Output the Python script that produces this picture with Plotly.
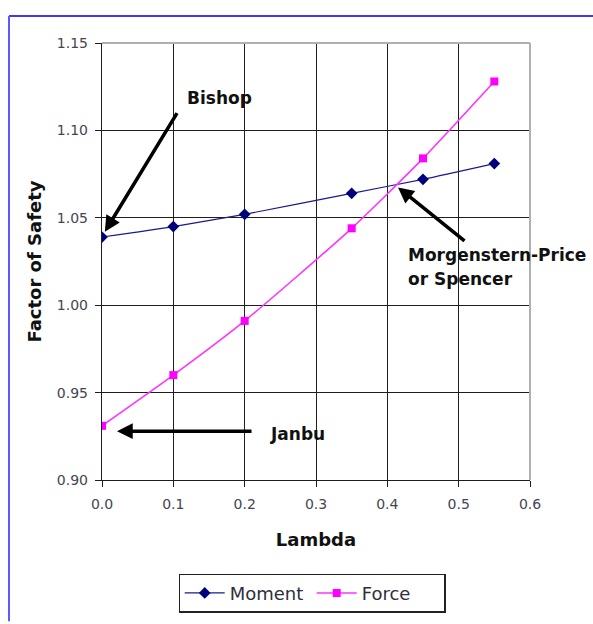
import plotly.graph_objects as go

# Factor of safety vs. lambda for moment and force equilibrium
lam_moment = [0.0, 0.1, 0.2, 0.35, 0.45, 0.55]
fs_moment = [1.039, 1.045, 1.052, 1.064, 1.072, 1.081]

lam_force = [0.0, 0.1, 0.2, 0.35, 0.45, 0.55]
fs_force = [0.931, 0.960, 0.991, 1.044, 1.084, 1.128]

x_ticks = [0.0, 0.1, 0.2, 0.3, 0.4, 0.5, 0.6]
y_ticks = [0.90, 0.95, 1.00, 1.05, 1.10, 1.15]

FONT = "DejaVu Sans, Arial, sans-serif"

# plot-area geometry in pixels (used for the outer frame in paper coords)
W, H = 593, 624
ML, MR, MT, MB = 102, 63, 43, 142
PW, PH = W - ML - MR, H - MT - MB


def px_x(p):
    return (p - ML) / PW


def px_y(p):
    return (H - MB - p) / PH


fig = go.Figure()

fig.add_trace(go.Scatter(
    x=lam_moment, y=fs_moment, name="Moment", mode="lines+markers",
    line=dict(color="#1a1a8c", width=1.2, shape="spline", smoothing=0.6),
    marker=dict(symbol="diamond", size=9, color="#00007a"),
))
fig.add_trace(go.Scatter(
    x=lam_force, y=fs_force, name="Force", mode="lines+markers",
    line=dict(color="#ff33ff", width=1.6, shape="spline", smoothing=0.6),
    marker=dict(symbol="square", size=8, color="#ff00ff"),
))

axis_common = dict(
    showgrid=True, gridcolor="#1e1e1e", gridwidth=1.4,
    showline=True, linecolor="#1e1e1e", linewidth=1.4,
    ticks="outside", ticklen=6, tickcolor="#1e1e1e", tickwidth=1.4,
    tickfont=dict(family=FONT, size=14, color="#454552"),
    zeroline=False, mirror=False,
)

fig.update_xaxes(
    range=[0, 0.6], tickvals=x_ticks, tickformat=".1f", ticklabelstandoff=5,
    title=dict(text="<b>Lambda</b>", font=dict(family=FONT, size=18, color="#111111"), standoff=22),
    **axis_common,
)
fig.update_yaxes(
    range=[0.90, 1.15], tickvals=y_ticks, tickformat=".2f", ticklabelstandoff=4,
    title=dict(text="<b>Factor of Safety</b>", font=dict(family=FONT, size=18, color="#111111"), standoff=10),
    **axis_common,
)

shapes = [
    # grey border on top and right of plot area
    dict(type="line", xref="paper", yref="paper", x0=0, x1=1, y0=1, y1=1,
         line=dict(color="#b0b0b0", width=2)),
    dict(type="line", xref="paper", yref="paper", x0=1, x1=1, y0=0, y1=1,
         line=dict(color="#b0b0b0", width=2)),
    # outer blue frame
    dict(type="line", xref="paper", yref="paper", x0=px_x(9), x1=px_x(593),
         y0=px_y(16), y1=px_y(16), line=dict(color="#3a3af0", width=2)),
    dict(type="line", xref="paper", yref="paper", x0=px_x(9), x1=px_x(9),
         y0=px_y(16), y1=px_y(624), line=dict(color="#5a5aff", width=2)),
]

arrow = dict(showarrow=True, arrowhead=2, arrowsize=0.9, arrowwidth=3.5,
             arrowcolor="#000000", xref="x", yref="y", axref="x", ayref="y", text="")
label_font = dict(family=FONT, size=17, color="#111111")

annotations = [
    dict(x=0.004, y=1.042, ax=0.1065, ay=1.1107, **arrow),
    dict(x=0.415, y=1.0674, ax=0.5103, ay=1.0361, **arrow),
    dict(x=0.021, y=0.9279, ax=0.2117, ay=0.9279, **arrow),
    dict(x=0.1165, y=1.1185, xref="x", yref="y", text="<b>Bishop</b>",
         showarrow=False, xanchor="left", yanchor="middle", font=label_font),
    dict(x=0.2325, y=0.9266, xref="x", yref="y", text="<b>Janbu</b>",
         showarrow=False, xanchor="left", yanchor="middle", font=label_font),
    dict(x=0.4258, y=1.029, xref="x", yref="y", text="<b>Morgenstern-Price</b>",
         showarrow=False, xanchor="left", yanchor="middle", font=label_font),
    dict(x=0.4258, y=1.0148, xref="x", yref="y", text="<b>or Spencer</b>",
         showarrow=False, xanchor="left", yanchor="middle", font=label_font),
]

fig.update_layout(
    width=W, height=H,
    margin=dict(l=ML, r=MR, t=MT, b=MB),
    paper_bgcolor="white", plot_bgcolor="white",
    showlegend=True,
    legend=dict(
        orientation="h", x=px_x(312), xanchor="center", y=px_y(576), yanchor="top",
        bordercolor="#222222", borderwidth=1.2,
        font=dict(family=FONT, size=18, color="#2e2e3c"),
        itemwidth=40, entrywidth=77, tracegroupgap=0,
    ),
    shapes=shapes,
    annotations=annotations,
)

fig.write_html("out.html")
